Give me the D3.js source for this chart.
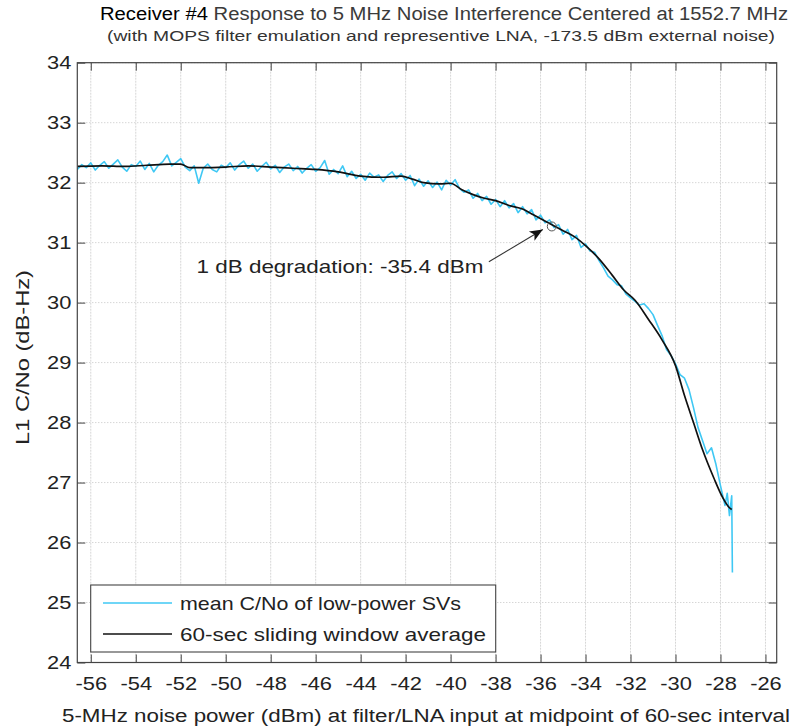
<!DOCTYPE html>
<html><head><meta charset="utf-8">
<script src="https://cdn.jsdelivr.net/npm/d3@7"></script>
<style>
body{margin:0;background:#fff}
svg{display:block}
text{font-family:"Liberation Sans",Arial,Helvetica,sans-serif}
</style>
</head><body>
<svg id="chart" width="792" height="727"></svg>
<script>
// ---------- data ----------
const xTickValues = [-56,-54,-52,-50,-48,-46,-44,-42,-40,-38,-36,-34,-32,-30,-28,-26];
const yTickValues = [24,25,26,27,28,29,30,31,32,33,34];

// mean C/No of low-power SVs (noisy trace)
const rawX = [-56.6,-56.4,-56.2,-56.0,-55.8,-55.6,-55.4,-55.2,-55.0,-54.8,-54.6,-54.4,-54.2,-54.0,-53.8,-53.6,-53.4,-53.2,-53.0,-52.8,
  -52.6,-52.4,-52.2,-52.0,-51.8,-51.6,-51.4,-51.2,-51.0,-50.8,-50.6,-50.4,-50.2,-50.0,-49.8,-49.6,-49.4,-49.2,-49.0,-48.8,
  -48.6,-48.4,-48.2,-48.0,-47.8,-47.6,-47.4,-47.2,-47.0,-46.8,-46.6,-46.4,-46.2,-46.0,-45.8,-45.6,-45.4,-45.2,-45.0,-44.8,
  -44.6,-44.4,-44.2,-44.0,-43.8,-43.6,-43.4,-43.2,-43.0,-42.8,-42.6,-42.4,-42.2,-42.0,-41.8,-41.6,-41.4,-41.2,-41.0,-40.8,
  -40.6,-40.4,-40.2,-40.0,-39.8,-39.6,-39.4,-39.2,-39.0,-38.8,-38.6,-38.4,-38.2,-38.0,-37.8,-37.6,-37.4,-37.2,-37.0,-36.8,
  -36.6,-36.4,-36.2,-36.0,-35.8,-35.6,-35.4,-35.2,-35.0,-34.8,-34.6,-34.4,-34.2,-34.0,-33.8,-33.6,-33.4,-33.2,-33.0,-32.8,
  -32.6,-32.4,-32.2,-32.0,-31.8,-31.6,-31.4,-31.2,-31.0,-30.8,-30.6,-30.4,-30.2,-30.0,-29.8,-29.6,-29.4,-29.2,-29.0,-28.8,
  -28.6,-28.4,-28.2,-28.0,-27.8,-27.7,-27.6,-27.5,-27.47];
const rawY = [32.22,32.30,32.25,32.33,32.21,32.29,32.35,32.24,32.31,32.38,32.26,32.19,32.30,32.27,32.36,32.22,32.32,32.18,32.29,32.35,
  32.46,32.28,32.34,32.40,32.26,32.20,32.28,31.99,32.24,32.31,32.22,32.18,32.29,32.25,32.33,32.21,32.30,32.36,32.24,32.31,
  32.19,32.27,32.34,32.23,32.29,32.17,32.26,32.31,32.20,32.27,32.16,32.24,32.30,32.19,32.25,32.37,32.14,32.22,32.15,32.28,
  32.10,32.19,32.07,32.14,32.04,32.16,32.09,32.13,32.02,32.12,32.18,32.07,32.15,32.04,32.12,31.95,32.06,31.94,32.03,31.92,
  32.01,31.88,32.04,31.96,32.05,31.90,31.84,31.88,31.74,31.82,31.70,31.77,31.64,31.72,31.60,31.70,31.58,31.65,31.50,31.60,
  31.48,31.55,31.38,31.46,31.33,31.38,31.25,31.30,31.14,31.22,31.05,31.12,30.92,30.98,30.86,30.84,30.70,30.58,30.44,30.38,
  30.30,30.28,30.14,30.08,30.02,29.96,29.98,29.90,29.80,29.62,29.45,29.22,29.12,28.98,28.80,28.74,28.55,28.25,27.92,27.70,
  27.48,27.58,27.30,26.95,26.62,26.82,26.45,26.78,25.50];

// 60-sec sliding window average
const avgX = [-56.6,-55.5,-54.5,-53.5,-52.5,-52.0,-51.6,-51.0,-50.0,-49.0,-48.0,-47.0,-46.0,-45.0,-44.0,-43.0,-42.2,-41.7,-41.2,-40.5,
  -40.0,-39.5,-39.0,-38.5,-38.0,-37.4,-36.8,-36.3,-35.6,-35.0,-34.5,-34.0,-33.4,-32.8,-32.3,-31.8,-31.2,-30.6,-30.0,-29.6,
  -29.2,-28.8,-28.3,-27.9,-27.6,-27.5];
const avgY = [32.27,32.28,32.27,32.29,32.31,32.31,32.25,32.25,32.26,32.28,32.26,32.24,32.22,32.18,32.11,32.09,32.11,32.06,32.00,31.98,
  31.99,31.88,31.80,31.74,31.70,31.62,31.56,31.46,31.32,31.20,31.10,30.95,30.73,30.45,30.21,30.04,29.72,29.38,28.95,28.45,
  28.00,27.55,27.08,26.75,26.58,26.55];

const seriesNames = ["mean C/No of low-power SVs","60-sec sliding window average"];
const seriesColors = ["#3fc8f4","#111111"];

// annotation (data units)
const annoText = "1 dB degradation: -35.4 dBm";
const annoTextAt = [-51.3, 30.49];
const annoArrowFrom = [-38.3, 30.68];
const annoArrowTo = [-35.9, 31.22];
const annoPoint = [-35.5, 31.27];

// ---------- layout ----------
const svg = d3.select("#chart");
const L = 77.3, R = 776.7, T = 62.7, B = 662.5;
const x = d3.scaleLinear().domain([-56.6, -25.5]).range([L, R]);
const y = d3.scaleLinear().domain([24, 34]).range([B, T]);

svg.append("rect").attr("width",792).attr("height",727).attr("fill","#fff");

// grid
const grid = svg.append("g");
grid.selectAll(".gx").data(xTickValues).join("line")
  .attr("x1", d=>x(d)).attr("x2", d=>x(d)).attr("y1", T).attr("y2", B)
  .attr("stroke","#d6d6d6").attr("stroke-width",1).attr("stroke-dasharray","2,1");
grid.selectAll(".gy").data(yTickValues).join("line")
  .attr("x1", L).attr("x2", R).attr("y1", d=>y(d)).attr("y2", d=>y(d))
  .attr("stroke","#c4c4c4").attr("stroke-width",1).attr("stroke-dasharray","1,2");

// clip
svg.append("clipPath").attr("id","clip").append("rect")
  .attr("x",L).attr("y",T).attr("width",R-L).attr("height",B-T);

const line = d3.line().x(d=>x(d[0])).y(d=>y(d[1]));
const rawPts = rawX.map((v,i)=>[v, rawY[i]]);
const avgPts = avgX.map((v,i)=>[v, avgY[i]]);

svg.append("path").datum(rawPts).attr("clip-path","url(#clip)")
  .attr("d", line).attr("fill","none").attr("stroke", seriesColors[0]).attr("stroke-width",1.6)
  .attr("stroke-linejoin","round");
svg.append("path").datum(avgPts).attr("clip-path","url(#clip)")
  .attr("d", d3.line().curve(d3.curveMonotoneX).x(d=>x(d[0])).y(d=>y(d[1])))
  .attr("fill","none").attr("stroke", seriesColors[1]).attr("stroke-width",1.7);

// axes
const axisColor = "#444";
const gB = svg.append("g").attr("transform",`translate(0,${B})`)
  .call(d3.axisBottom(x).tickValues(xTickValues).tickSizeInner(-8).tickSizeOuter(0).tickPadding(14).tickFormat(d3.format("d")));
const gT = svg.append("g").attr("transform",`translate(0,${T})`)
  .call(d3.axisTop(x).tickValues(xTickValues).tickSizeInner(-8).tickSizeOuter(0).tickFormat(""));
const gL = svg.append("g").attr("transform",`translate(${L},0)`)
  .call(d3.axisLeft(y).tickValues(yTickValues).tickSizeInner(-8).tickSizeOuter(0).tickPadding(6).tickFormat(d3.format("d")));
const gR = svg.append("g").attr("transform",`translate(${R},0)`)
  .call(d3.axisRight(y).tickValues(yTickValues).tickSizeInner(-8).tickSizeOuter(0).tickFormat(""));
[gB,gT,gL,gR].forEach(g=>{
  g.select(".domain").remove();
  g.selectAll(".tick line").attr("stroke",axisColor);
  g.selectAll(".tick text").attr("font-size",19).attr("fill","#222")
    .attr("font-family","Liberation Sans, Arial, sans-serif").classed("stretch",true);
});
gB.selectAll(".tick text").each(function(d){ d3.select(this).text(d3.format("d")(d).replace("−","-")); });
gL.selectAll(".tick text").each(function(d){ d3.select(this).text(d3.format("d")(d)); });

svg.append("rect").attr("x",L).attr("y",T).attr("width",R-L).attr("height",B-T)
  .attr("fill","none").attr("stroke",axisColor).attr("stroke-width",1.2);

// annotation
svg.append("defs").append("marker").attr("id","arrow")
  .attr("viewBox","0 0 10 10").attr("refX",10).attr("refY",5)
  .attr("markerWidth",13).attr("markerHeight",13).attr("markerUnits","userSpaceOnUse")
  .attr("orient","auto")
  .append("path").attr("d","M0,0.8 L10,5 L0,9.2 L2.5,5 Z").attr("fill","#111");
svg.append("line")
  .attr("x1", x(annoArrowFrom[0])).attr("y1", y(annoArrowFrom[1]))
  .attr("x2", x(annoArrowTo[0])).attr("y2", y(annoArrowTo[1]))
  .attr("stroke","#333").attr("stroke-width",1.1).attr("marker-end","url(#arrow)");
svg.append("circle").attr("cx", x(annoPoint[0])).attr("cy", y(annoPoint[1])).attr("r",4.5)
  .attr("fill","none").attr("stroke","#555").attr("stroke-width",1);
svg.append("text").attr("x", x(annoTextAt[0])).attr("y", y(annoTextAt[1]))
  .attr("font-size",19).attr("fill","#222").attr("data-w",287).text(annoText);

// legend
const lg = svg.append("g");
lg.append("rect").attr("x",90.7).attr("y",585).attr("width",405).attr("height",67)
  .attr("fill","#fff").attr("stroke","#444").attr("stroke-width",1.1);
seriesNames.forEach((name,i)=>{
  const yy = 603 + i*31;
  lg.append("line").attr("x1",103).attr("x2",172).attr("y1",yy).attr("y2",yy)
    .attr("stroke",seriesColors[i]).attr("stroke-width",i===0?1.4:1.7);
  lg.append("text").attr("x",180).attr("y",yy+6.5).attr("font-size",19).attr("fill","#222")
    .attr("data-w", i===0?281:306).text(name);
});

// titles
const title = svg.append("text").attr("x",100).attr("y",20).attr("font-size",18).attr("data-w",688);
title.append("tspan").attr("fill","#000").text("Receiver #4 ");
title.append("tspan").attr("fill","#3a3a3a").text("Response to 5 MHz Noise Interference Centered at 1552.7 MHz");
svg.append("text").attr("x",107).attr("y",41).attr("font-size",14).attr("fill","#333").attr("data-w",668)
  .text("(with MOPS filter emulation and representive LNA, -173.5 dBm external noise)");

// axis labels
svg.append("text").attr("x",62).attr("y",722).attr("font-size",18).attr("fill","#222").attr("data-w",728)
  .text("5-MHz noise power (dBm) at filter/LNA input at midpoint of 60-sec interval");
svg.append("text").attr("transform","translate(29,445) rotate(-90)").attr("font-size",18).attr("fill","#222").attr("data-w",175)
  .text("L1 C/No (dB-Hz)");

// horizontal stretch of text to match reference proportions
svg.selectAll("text[data-w]").each(function(){
  const w = +this.getAttribute("data-w");
  this.setAttribute("textLength", w);
  this.setAttribute("lengthAdjust","spacingAndGlyphs");
});
svg.selectAll("text.stretch").each(function(){
  const w = this.getComputedTextLength();
  this.setAttribute("textLength", w*1.15);
  this.setAttribute("lengthAdjust","spacingAndGlyphs");
});
</script>
</body></html>
